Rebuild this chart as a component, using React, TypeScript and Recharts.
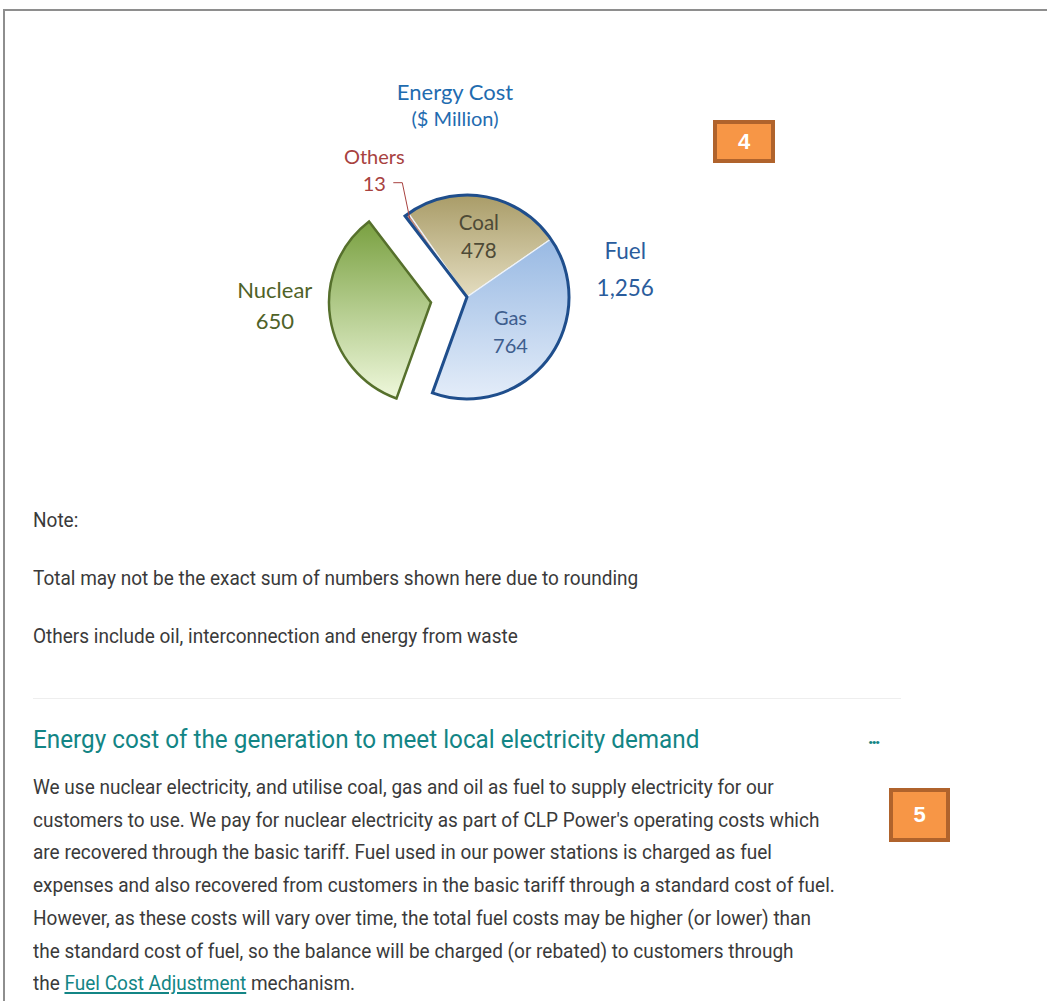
import React from "react";
import { PieChart, Pie, Cell } from "recharts";

// Energy cost breakdown ($ Million)
const sliceNames = ["Others", "Coal", "Gas", "Nuclear"];
const sliceValues = [13, 478, 764, 650];
const groupNames = ["Fuel", "Nuclear"];
const groupValues = [1256, 650];

const noteLines = [
  "Note:",
  "Total may not be the exact sum of numbers shown here due to rounding",
  "Others include oil, interconnection and energy from waste",
];

const heading = "Energy cost of the generation to meet local electricity demand";
const paragraphLines = [
  "We use nuclear electricity, and utilise coal, gas and oil as fuel to supply electricity for our",
  "customers to use. We pay for nuclear electricity as part of CLP Power's operating costs which",
  "are recovered through the basic tariff. Fuel used in our power stations is charged as fuel",
  "expenses and also recovered from customers in the basic tariff through a standard cost of fuel.",
  "However, as these costs will vary over time, the total fuel costs may be higher (or lower) than",
  "the standard cost of fuel, so the balance will be charged (or rebated) to customers through",
];
const lastLine = ["the ", "Fuel Cost Adjustment", " mechanism."];

const sliceData = sliceNames.map((name, i) => ({ name, value: sliceValues[i] }));
const groupData = groupNames.map((name, i) => ({ name, value: groupValues[i] }));

const fmt = (v: number) => v.toLocaleString("en-US");

const labelStyle: Record<string, { r: number; color: string; gap: number; dy: number; dx: number; size: number }> = {
  Others: { r: 1.54, color: "#A8423F", gap: 27, dy: -1, dx: 0, size: 20 },
  Coal: { r: 0.6, color: "#4E4A36", gap: 28, dy: -1, dx: 1, size: 20.5 },
  Gas: { r: 0.55, color: "#3E5E8E", gap: 28, dy: 0, dx: -1, size: 20 },
  Fuel: { r: 1.56, color: "#2A5C9C", gap: 37, dy: -4, dx: 1, size: 22.5 },
  Nuclear: { r: 1.52, color: "#4F6228", gap: 31, dy: -21, dx: -3, size: 22 },
};

const RAD = Math.PI / 180;
const CHART_FONT = "Lato, 'Open Sans', sans-serif";
const BODY_FONT = "Roboto, sans-serif";

function makeLabel(only?: string[]) {
  return (props: any) => {
    const { cx, cy, midAngle, outerRadius, name, value } = props;
    if (only && !only.includes(name)) return null;
    const st = labelStyle[name];
    if (!st) return null;
    const x = cx + outerRadius * st.r * Math.cos(-midAngle * RAD) + st.dx;
    const y = cy + outerRadius * st.r * Math.sin(-midAngle * RAD) + st.dy;
    const shown = name === "Fuel" ? groupValues[0] : value;
    const lead =
      name === "Others" ? (
        <polyline
          points={`${x + 19},${y + st.gap / 2} ${x + 28},${y + st.gap / 2} ${
            cx + outerRadius * 0.95 * Math.cos(-midAngle * RAD)
          },${cy + outerRadius * 0.95 * Math.sin(-midAngle * RAD)}`}
          fill="none"
          stroke="#A8423F"
          strokeWidth={1}
        />
      ) : null;
    return (
      <g>
        {lead}
        <text
          x={x}
          y={y - st.gap / 2}
          textAnchor="middle"
          dominantBaseline="central"
          fill={st.color}
          fontSize={st.size}
          fontFamily={CHART_FONT}
        >
          {name}
        </text>
        <text
          x={x}
          y={y + st.gap / 2}
          textAnchor="middle"
          dominantBaseline="central"
          fill={st.color}
          fontSize={st.size}
          fontFamily={CHART_FONT}
        >
          {fmt(shown)}
        </text>
      </g>
    );
  };
}

const sliceFill: Record<string, string> = {
  Others: "url(#gOthers)",
  Coal: "url(#gCoal)",
  Gas: "url(#gGas)",
  Nuclear: "none",
};

function EnergyPie() {
  const CX = 247;
  const CY = 227;
  const R = 102;
  const START = 127.4;
  return (
    <PieChart width={460} height={340} margin={{ top: 0, right: 0, bottom: 0, left: 0 }}>
      <defs>
        <linearGradient id="gCoal" x1="0" y1="0" x2="0" y2="1">
          <stop offset="0%" stopColor="#A99C68" />
          <stop offset="100%" stopColor="#E4DDC0" />
        </linearGradient>
        <linearGradient id="gGas" x1="0" y1="0" x2="0" y2="1">
          <stop offset="0%" stopColor="#98B9E3" />
          <stop offset="100%" stopColor="#E4EDF9" />
        </linearGradient>
        <linearGradient id="gNuc" x1="0" y1="0" x2="0" y2="1">
          <stop offset="0%" stopColor="#79A040" />
          <stop offset="100%" stopColor="#EFF8DC" />
        </linearGradient>
        <linearGradient id="gOthers" x1="0" y1="0" x2="0" y2="1">
          <stop offset="0%" stopColor="#C0877A" />
          <stop offset="100%" stopColor="#D8C3A8" />
        </linearGradient>
      </defs>
      <Pie
        data={sliceData}
        dataKey="value"
        nameKey="name"
        cx={CX}
        cy={CY}
        outerRadius={R}
        startAngle={START}
        endAngle={START - 360}
        isAnimationActive={false}
        labelLine={false}
        label={makeLabel(["Others", "Coal", "Gas"])}
      >
        {sliceData.map((d) => (
          <Cell
            key={d.name}
            fill={sliceFill[d.name]}
            stroke={d.name === "Nuclear" ? "none" : "#EEF3FA"}
            strokeWidth={1.2}
          />
        ))}
      </Pie>
      <Pie
        data={groupData}
        dataKey="value"
        nameKey="name"
        cx={CX}
        cy={CY}
        outerRadius={R}
        startAngle={START}
        endAngle={START - 360}
        isAnimationActive={false}
        labelLine={false}
        label={makeLabel(["Fuel"])}
      >
        {groupData.map((d) => (
          <Cell
            key={d.name}
            fill="none"
            stroke={d.name === "Fuel" ? "#1F4E8C" : "none"}
            strokeWidth={3}
          />
        ))}
      </Pie>
      <Pie
        data={sliceData}
        dataKey="value"
        nameKey="name"
        cx={CX - 36}
        cy={CY + 5.5}
        outerRadius={R}
        startAngle={START}
        endAngle={START - 360}
        isAnimationActive={false}
        labelLine={false}
        label={makeLabel(["Nuclear"])}
      >
        {sliceData.map((d) => (
          <Cell
            key={d.name}
            fill={d.name === "Nuclear" ? "url(#gNuc)" : "none"}
            stroke={d.name === "Nuclear" ? "#56702C" : "none"}
            strokeWidth={2.5}
          />
        ))}
      </Pie>
    </PieChart>
  );
}

function Badge({ n, left, top, w, h }: { n: string; left: number; top: number; w: number; h: number }) {
  return (
    <div
      style={{
        position: "absolute",
        left,
        top,
        width: w,
        height: h,
        boxSizing: "border-box",
        background: "#F79646",
        border: "4px solid #B0632C",
        color: "#fff",
        fontFamily: "'Liberation Sans', Arial, sans-serif",
        fontWeight: 700,
        fontSize: 22,
        display: "flex",
        alignItems: "center",
        justifyContent: "center",
      }}
    >
      {n}
    </div>
  );
}

// condensed look: Roboto squeezed horizontally
const squeeze = (k: number): React.CSSProperties => ({
  transform: `scaleX(${k})`,
  transformOrigin: "0 0",
});

export default function App() {
  const textColor = "#3A3A3A";
  const teal = "#138585";
  return (
    <div
      style={{
        position: "absolute",
        left: 0,
        top: 0,
        width: 1047,
        height: 1001,
        overflow: "hidden",
        background: "#fff",
      }}
    >
      <div
        style={{
          position: "absolute",
          left: 3,
          top: 9,
          width: 1200,
          height: 1200,
          borderLeft: "2px solid #8E8E8E",
          borderTop: "2px solid #8E8E8E",
        }}
      />
      <div style={{ position: "absolute", left: 220, top: 70 }}>
        <EnergyPie />
      </div>
      <div
        style={{
          position: "absolute",
          left: 355,
          top: 78,
          width: 200,
          textAlign: "center",
          fontFamily: CHART_FONT,
          color: "#1F6CB0",
          lineHeight: "27px",
        }}
      >
        <div style={{ fontSize: 22 }}>Energy Cost</div>
        <div style={{ fontSize: 20 }}>($ Million)</div>
      </div>
      <Badge n="4" left={713} top={120} w={62} h={43} />
      <Badge n="5" left={889} top={788} w={61} h={54} />

      {noteLines.map((t, i) => (
        <div
          key={i}
          style={{
            position: "absolute",
            left: 33,
            top: 504 + i * 58,
            fontFamily: BODY_FONT,
            fontSize: 21,
            lineHeight: "32px",
            color: textColor,
            whiteSpace: "nowrap",
            ...squeeze(0.905),
          }}
        >
          {t}
        </div>
      ))}
      <div
        style={{
          position: "absolute",
          left: 33,
          top: 698,
          width: 868,
          height: 1,
          background: "#EEEEEE",
        }}
      />
      <div
        style={{
          position: "absolute",
          left: 33,
          top: 721,
          fontFamily: BODY_FONT,
          fontSize: 26.5,
          lineHeight: "36px",
          color: teal,
          whiteSpace: "nowrap",
          ...squeeze(0.916),
        }}
      >
        {heading}
      </div>
      <div
        style={{
          position: "absolute",
          left: 868,
          top: 720,
          fontFamily: BODY_FONT,
          fontSize: 18,
          fontWeight: 900,
          lineHeight: "36px",
          color: teal,
          letterSpacing: -2,
        }}
      >
        ...
      </div>
      <div
        style={{
          position: "absolute",
          left: 33,
          top: 771,
          fontFamily: BODY_FONT,
          fontSize: 21,
          lineHeight: "32.7px",
          color: textColor,
          whiteSpace: "nowrap",
          ...squeeze(0.905),
        }}
      >
        {paragraphLines.map((t, i) => (
          <div key={i}>{t}</div>
        ))}
        <div>
          {lastLine[0]}
          <span style={{ color: teal, textDecoration: "underline" }}>{lastLine[1]}</span>
          {lastLine[2]}
        </div>
      </div>
    </div>
  );
}
